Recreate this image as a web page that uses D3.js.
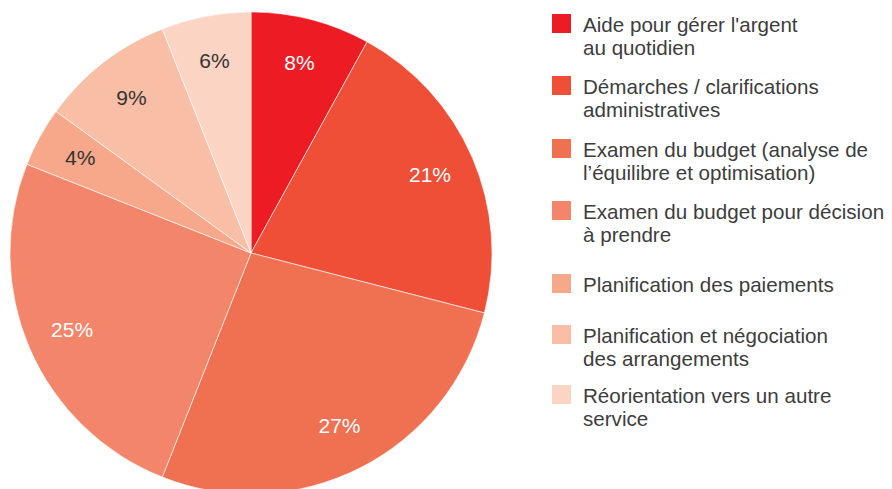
<!DOCTYPE html>
<html><head><meta charset="utf-8">
<script src="https://cdn.jsdelivr.net/npm/d3@7"></script>
<style>body{margin:0;background:#fff}svg{display:block}text{font-family:"Liberation Sans",Arial,Helvetica,sans-serif}</style>
</head><body>
<svg id="c" width="892" height="489"></svg>
<script>
const categories = [
  ["Aide pour gérer l'argent", "au quotidien"],
  ["Démarches / clarifications", "administratives"],
  ["Examen du budget (analyse de", "l’équilibre et optimisation)"],
  ["Examen du budget pour décision", "à prendre"],
  ["Planification des paiements"],
  ["Planification et négociation", "des arrangements"],
  ["Réorientation vers un autre", "service"]
];
const values = [8, 21, 27, 25, 4, 9, 6];
const labels = ["8%", "21%", "27%", "25%", "4%", "9%", "6%"];
const colors = ["#ED1C24", "#EF4E37", "#F07052", "#F3866A", "#F7A88B", "#F9BEA6", "#FCD4C3"];
const labelColors = ["#fff", "#fff", "#fff", "#fff", "#333", "#333", "#333"];
const legendY = [14, 76, 139, 201, 274, 325, 385];

const svg = d3.select("#c");
const cx = 251, cy = 253, R = 241, rLab = 195;
const pie = d3.pie().sort(null).value(d => d);
const arcs = pie(values);
const arc = d3.arc().innerRadius(0).outerRadius(R);
const labArc = d3.arc().innerRadius(rLab).outerRadius(rLab);
const g = svg.append("g").attr("transform", `translate(${cx},${cy})`);
g.selectAll("path").data(arcs).join("path")
  .attr("d", arc).attr("fill", (d, i) => colors[i])
  .attr("stroke", "#fff").attr("stroke-width", 0.6);
g.selectAll("text").data(arcs).join("text")
  .attr("transform", d => `translate(${labArc.centroid(d)})`)
  .attr("text-anchor", "middle").attr("dy", "0.3em")
  .attr("font-size", 21).attr("fill", (d, i) => labelColors[i])
  .text((d, i) => labels[i]);

const lg = svg.append("g");
categories.forEach((lines, i) => {
  const y = legendY[i];
  lg.append("rect").attr("x", 552).attr("y", y).attr("width", 19).attr("height", 19).attr("fill", colors[i]);
  const t = lg.append("text").attr("x", 583).attr("y", y + 18).attr("font-size", 20.6).attr("fill", "#3d3d3d");
  lines.forEach((l, j) => t.append("tspan").attr("x", 583).attr("dy", j === 0 ? 0 : 23).text(l));
});
</script>
</body></html>
